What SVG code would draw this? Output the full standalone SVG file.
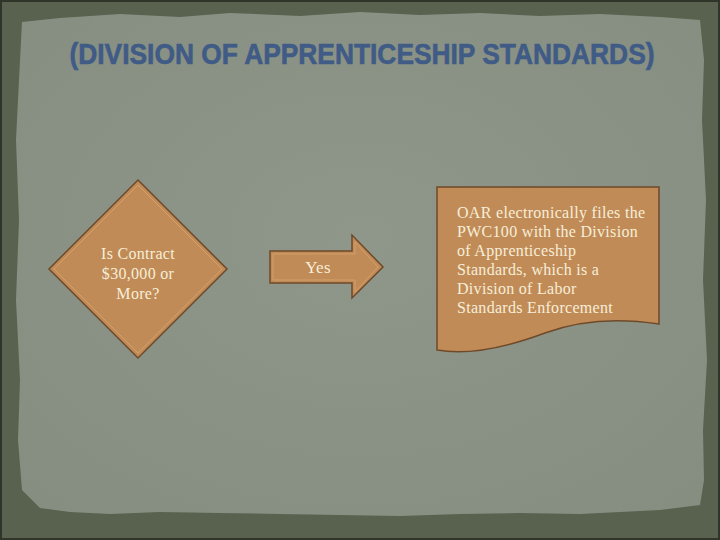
<svg xmlns="http://www.w3.org/2000/svg" width="720" height="540" viewBox="0 0 720 540">
<defs>
<style>
.title{font-family:"Liberation Sans",Arial,sans-serif;font-weight:bold;font-size:29px;fill:#3f5b86;stroke:#3f5b86;stroke-width:0.6}
.lbl{font-family:"Liberation Serif","DejaVu Serif",serif;fill:#f7eed8;letter-spacing:0.3px}
.shape{fill:#c08b57;stroke:#6e4a2a;stroke-width:1.5}
.inner{fill:none;stroke:#d9a974;stroke-width:1;opacity:0.7}
</style>
<radialGradient id="paper" cx="0.5" cy="0.45" r="0.7">
<stop offset="0" stop-color="#8f978a"/>
<stop offset="1" stop-color="#858e80"/>
</radialGradient>
</defs>
<rect width="720" height="540" fill="#59624f"/>
<rect x="1" y="1" width="718" height="538" fill="none" stroke="#2f3529" stroke-width="2"/>
<path d="M22,22 L60,18 L120,14 L180,17 L230,13 L300,16 L360,12 L420,15 L480,13 L540,16 L600,14 L660,17 L700,20 L704,60 L702,120 L706,200 L703,280 L707,360 L703,430 L704,480 L700,505 L660,510 L620,512 L580,514 L520,513 L460,514 L400,516 L340,515 L280,514 L220,513 L160,512 L110,514 L70,512 L40,508 L22,490 L18,440 L20,380 L16,300 L19,220 L16,140 L19,80 Z" fill="url(#paper)"/>
<text class="title" x="362" y="64" text-anchor="middle" textLength="585" lengthAdjust="spacingAndGlyphs">(DIVISION OF APPRENTICESHIP STANDARDS)</text>
<g id="connectors">
<g id="yes-arrow">
<path class="shape" d="M270,251 L352,251 L352,235 L383,267 L352,298 L352,283 L270,283 Z"/>
<path class="inner" d="M273,254 L355,254 L355,242 L378,267 L355,292 L355,280 L273,280 Z"/>
<text class="lbl" x="318" y="273" font-size="17" text-anchor="middle">Yes</text>
</g>
</g>
<g id="decision">
<path class="shape" d="M138,180 L227,269 L138,358 L49,269 Z"/>
<path class="inner" d="M138,185 L222,269 L138,353 L54,269 Z"/>
<text class="lbl" font-size="16" text-anchor="middle"><tspan x="138" y="259">Is Contract</tspan><tspan x="138" y="279">$30,000 or</tspan><tspan x="138" y="299">More?</tspan></text>
</g>
<g id="document">
<path class="shape" d="M437,187 L659,187 L659,324 C620,318 580,320 545,333 C510,346 470,356 437,350 Z"/>
<text class="lbl" font-size="16"><tspan x="457" y="218">OAR electronically files the</tspan><tspan x="457" y="237">PWC100 with the Division</tspan><tspan x="457" y="256">of Apprenticeship</tspan><tspan x="457" y="275">Standards, which is a</tspan><tspan x="457" y="294">Division of Labor</tspan><tspan x="457" y="313">Standards Enforcement</tspan></text>
</g>
</svg>
